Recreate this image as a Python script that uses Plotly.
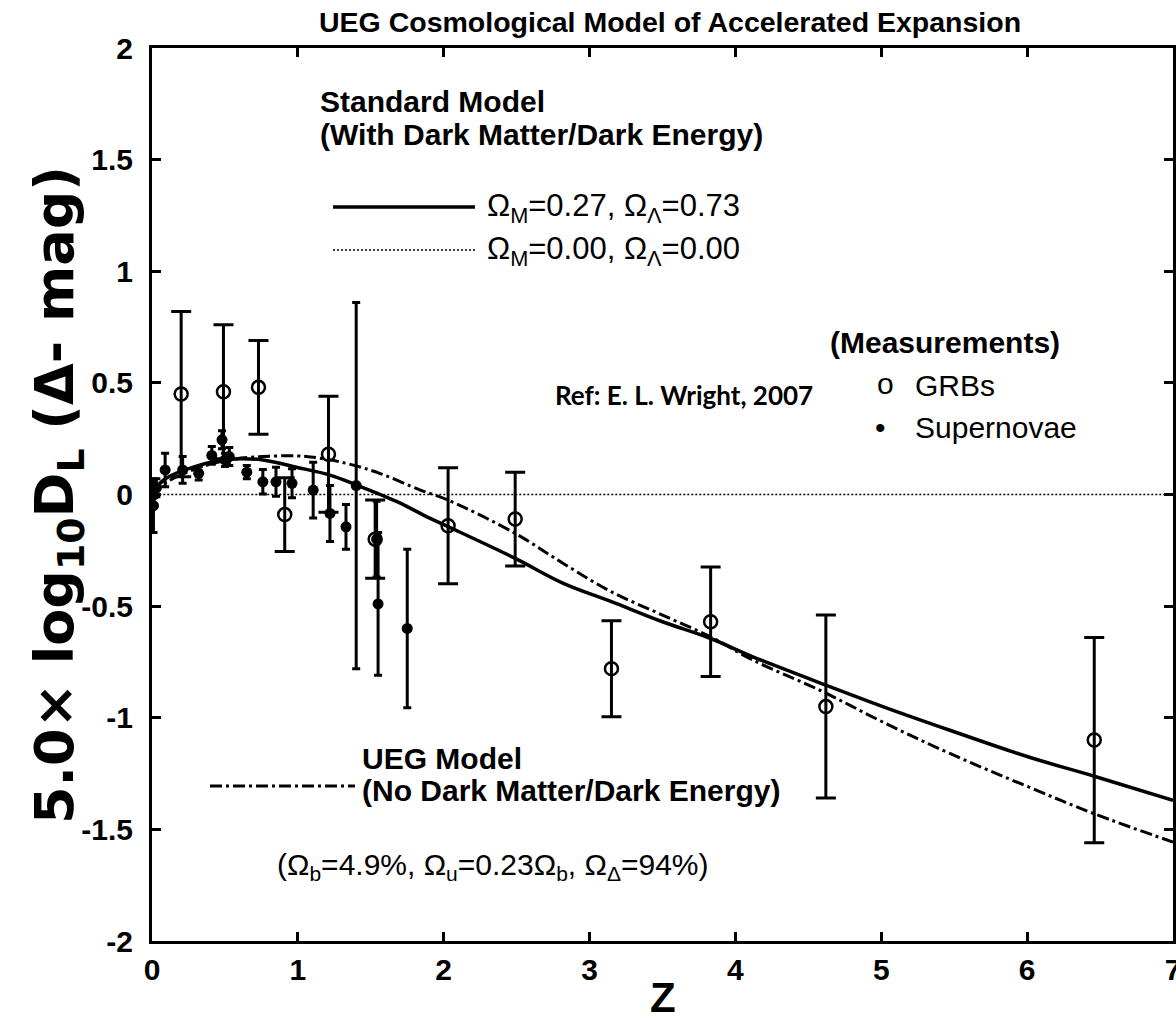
import plotly.graph_objects as go

# ---------------- data ----------------
grb_z = [0.20, 0.49, 0.73, 0.91, 1.21, 1.53, 2.03, 2.49, 3.15, 3.83, 4.62, 6.46]
grb_v = [0.45, 0.46, 0.48, -0.09, 0.18, -0.20, -0.14, -0.11, -0.78, -0.57, -0.95, -1.10]
grb_err = [0.37, 0.30, 0.21, 0.165, 0.26, 0.175, 0.26, 0.21, 0.215, 0.245, 0.41, 0.46]

sn_z = [0.01, 0.015, 0.03, 0.09, 0.21, 0.32, 0.41, 0.48, 0.50, 0.53, 0.65,
        0.76, 0.85, 0.96, 1.105, 1.22, 1.33, 1.40, 1.54, 1.55, 1.75]
sn_v = [-0.05, 0.0, 0.03, 0.11, 0.11, 0.095, 0.175, 0.245, 0.155, 0.17, 0.10,
        0.057, 0.057, 0.05, 0.02, -0.085, -0.145, 0.04, -0.20, -0.49, -0.60]
sn_err = [0.12, 0.05, 0.04, 0.075, 0.06, 0.03, 0.04, 0.04, 0.03, 0.04, 0.03,
          0.055, 0.065, 0.065, 0.125, 0.125, 0.10, 0.82, 0.17, 0.32, 0.355]

# Standard model curve (Omega_M=0.27, Omega_L=0.73)
std_z = [0.0, 0.08, 0.31, 0.53, 0.76, 0.99, 1.22, 1.40, 1.68, 1.90, 2.03, 2.49,
         2.82, 3.15, 3.50, 3.83, 4.12, 4.62, 5.01, 5.47, 6.01, 6.46, 7.0]
std_v = [0.0, 0.065, 0.128, 0.158, 0.155, 0.122, 0.087, 0.043, -0.032, -0.105, -0.144, -0.286,
         -0.398, -0.48, -0.57, -0.645, -0.727, -0.854, -0.95, -1.056, -1.176, -1.262, -1.37]

# UEG model curve
ueg_z = [0.0, 0.1, 0.3, 0.53, 0.76, 0.99, 1.105, 1.33, 1.56, 1.84, 2.03, 2.49,
         2.82, 3.15, 3.50, 3.83, 4.12, 4.58, 5.01, 5.47, 6.01, 6.46, 7.0]
ueg_v = [0.0, 0.055, 0.115, 0.155, 0.17, 0.173, 0.167, 0.14, 0.095, 0.02, -0.025, -0.174,
         -0.309, -0.436, -0.54, -0.638, -0.742, -0.877, -1.019, -1.16, -1.31, -1.43, -1.557]

# Empty universe (Omega_M=0, Omega_L=0) reference line
empty_z = [0.05, 7.0]
empty_v = [0.0, 0.0]

x_ticks = [0, 1, 2, 3, 4, 5, 6, 7]
y_ticks = [-2, -1.5, -1, -0.5, 0, 0.5, 1, 1.5, 2]
y_ticktext = ["-2", "-1.5", "-1", "-0.5", "0", "0.5", "1", "1.5", "2"]

# ---------------- figure ----------------
FONT = "Liberation Sans, Arial, sans-serif"
fig = go.Figure()

fig.add_trace(go.Scatter(x=empty_z, y=empty_v, mode="lines",
                         line=dict(color="black", width=1.5, dash="2px,2px"),
                         showlegend=False, hoverinfo="skip"))
fig.add_trace(go.Scatter(x=std_z, y=std_v, mode="lines", line_shape="spline",
                         line=dict(color="black", width=3.5),
                         showlegend=False))
fig.add_trace(go.Scatter(x=ueg_z, y=ueg_v, mode="lines", line_shape="spline",
                         line=dict(color="black", width=3, dash="12px,4px,3px,4px"),
                         showlegend=False))
fig.add_trace(go.Scatter(x=sn_z, y=sn_v, mode="markers",
                         marker=dict(symbol="circle", size=11, color="black"),
                         error_y=dict(type="data", array=sn_err, visible=True,
                                      color="black", thickness=3, width=4),
                         showlegend=False))
fig.add_trace(go.Scatter(x=grb_z, y=grb_v, mode="markers",
                         marker=dict(symbol="circle-open", size=13, color="black",
                                     line=dict(width=2.5, color="black")),
                         error_y=dict(type="data", array=grb_err, visible=True,
                                      color="black", thickness=3, width=10),
                         showlegend=False))

axis_common = dict(showline=True, linecolor="black", linewidth=3, mirror="ticks",
                   ticks="inside", ticklen=9, tickwidth=2.5, tickcolor="black",
                   showgrid=False, zeroline=False, ticklabeloverflow="allow",
                   tickfont=dict(family=FONT, size=30, color="black", weight="bold"))

fig.update_xaxes(range=[0, 7], tickvals=x_ticks, **axis_common)
fig.update_yaxes(range=[-2, 2], tickvals=y_ticks, ticktext=y_ticktext,
                 ticklabelstandoff=10, **axis_common)

L, R, T, B = 152, 3, 48, 88
W, H = 1176, 1029
PW, PH = W - L - R, H - T - B


def px(x):
    return (x - L) / PW


def py(y):
    return (H - B - y) / PH


ann = []


def text(t, x, y, size=30, bold=False, anchor="left", family=FONT, angle=0):
    ann.append(dict(text=t, x=px(x), y=py(y), xref="paper", yref="paper",
                    xanchor=anchor, yanchor="middle", showarrow=False,
                    textangle=angle,
                    font=dict(family=family, size=size, color="black",
                              weight="bold" if bold else "normal")))


text("UEG Cosmological Model of Accelerated Expansion", 670, 22, size=28.5, bold=True, anchor="center")
text("Standard Model", 318, 101, bold=True)
text("(With Dark Matter/Dark Energy)", 318, 134, bold=True)
text("Ω<sub>M</sub>=0.27, Ω<sub>Λ</sub>=0.73", 485, 208, size=31)
text("Ω<sub>M</sub>=0.00, Ω<sub>Λ</sub>=0.00", 485, 251, size=31)
text("(Measurements)", 828, 343, bold=True)
text("o", 885, 383, anchor="center")
text("GRBs", 913, 385)
text("•", 880, 428, anchor="center")
text("Supernovae", 913, 428)
text("Ref: E. L. Wright, 2007", 553, 395, size=26, bold=True, family="Lato, Open Sans, sans-serif")
text("UEG Model", 360, 758, bold=True)
text("(No Dark Matter/Dark Energy)", 360, 790, bold=True)
text("(Ω<sub>b</sub>=4.9%, Ω<sub>u</sub>=0.23Ω<sub>b</sub>, Ω<sub>Δ</sub>=94%)", 275, 866)
text("5.0× log<sub>10</sub>D<sub>L</sub> (Δ- mag)", 58, 495, size=54, bold=True, anchor="center",
     angle=-90, family="DejaVu Sans, sans-serif")
text("Z", 663, 997, size=42, bold=True, anchor="center")

shapes = [
    dict(type="line", xref="paper", yref="paper", x0=px(333), x1=px(475), y0=py(207), y1=py(207),
         line=dict(color="black", width=3.5)),
    dict(type="line", xref="paper", yref="paper", x0=px(333), x1=px(475), y0=py(250), y1=py(250),
         line=dict(color="black", width=1.5, dash="2px,2px")),
    dict(type="line", xref="paper", yref="paper", x0=px(210), x1=px(355), y0=py(786), y1=py(786),
         line=dict(color="black", width=3, dash="12px,4px,3px,4px")),
]

fig.update_layout(width=W, height=H, margin=dict(l=L, r=R, t=T, b=B, autoexpand=False),
                  paper_bgcolor="white", plot_bgcolor="white",
                  annotations=ann, shapes=shapes, showlegend=False)

fig.write_html("out.html")
